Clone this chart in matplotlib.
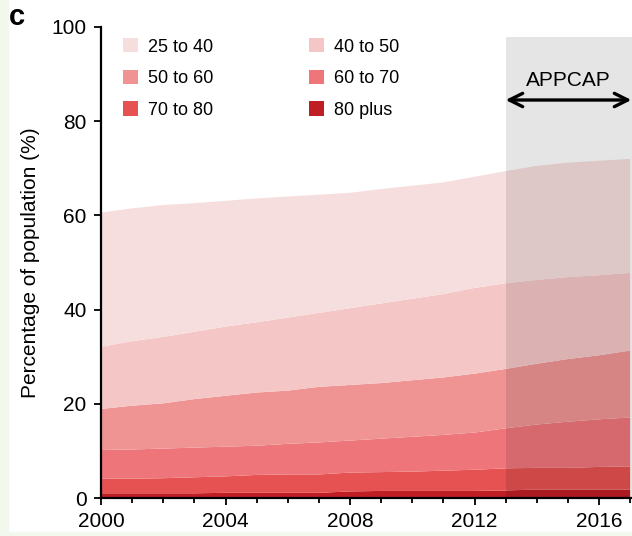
import matplotlib
matplotlib.use("Agg")
import matplotlib.pyplot as plt
from matplotlib.patches import Rectangle
from matplotlib.ticker import MultipleLocator

plt.rcParams['font.family'] = ['Liberation Sans', 'DejaVu Sans']

# share of population in each age band, per year
years = list(range(2000, 2018))
age_25_40 = [28.5, 28.2, 28.0, 27.3, 26.7, 26.3, 25.7, 25.1, 24.5, 24.3, 24.0, 23.7, 23.6, 23.8, 24.2, 24.3, 24.3, 24.2]
age_40_50 = [13.2, 13.7, 14.1, 14.3, 14.7, 14.9, 15.5, 15.7, 16.3, 16.9, 17.3, 17.7, 18.2, 18.2, 17.8, 17.4, 17.0, 16.5]
age_50_60 = [8.7, 9.3, 9.6, 10.3, 10.8, 11.3, 11.3, 11.8, 11.8, 11.8, 12.0, 12.2, 12.5, 12.6, 12.9, 13.3, 13.6, 14.2]
age_60_70 = [6.1, 6.2, 6.3, 6.3, 6.3, 6.2, 6.5, 6.8, 6.8, 7.1, 7.4, 7.6, 7.9, 8.5, 9.2, 9.8, 10.1, 10.4]
age_70_80 = [3.1, 3.1, 3.2, 3.4, 3.5, 3.8, 3.9, 3.9, 4.0, 4.0, 4.1, 4.3, 4.5, 4.7, 4.6, 4.6, 4.8, 4.9]
age_80_plus = [1.0, 1.0, 1.0, 1.0, 1.1, 1.1, 1.1, 1.1, 1.4, 1.5, 1.5, 1.5, 1.5, 1.6, 1.8, 1.8, 1.8, 1.8]

labels = ['25 to 40', '40 to 50', '50 to 60', '60 to 70', '70 to 80', '80 plus']
colors = ['#f7dede', '#f4c6c6', '#ef9393', '#ee767a', '#e65151', '#bf1e24']

appcap_start = 2013

fig = plt.figure(figsize=(6.32, 5.36), dpi=100)
fig.patches.append(Rectangle((0, 0), 8 / 632, 1, transform=fig.transFigure,
                             color='#f3f8ee', zorder=-1))
fig.patches.append(Rectangle((0, 0), 1, 4 / 536, transform=fig.transFigure,
                             color='#f3f8ee', zorder=-1))

ax = fig.add_axes([101 / 632, 38 / 536, 531 / 632, 471 / 536])

# stack from the oldest band at the bottom up to 25 to 40 on top
series = [age_80_plus, age_70_80, age_60_70, age_50_60, age_40_50, age_25_40]
polys = ax.stackplot(years, series, colors=colors[::-1], linewidth=0)

ax.set_xlim(2000, 2000 + 531 / 31.125)
ax.set_ylim(0, 100)
x_end = ax.get_xlim()[1]

# grey band marking the APPCAP period
ax.axvspan(appcap_start, x_end, ymin=0, ymax=0.979,
           color='black', alpha=0.1, linewidth=0, zorder=3)
ax.annotate('', xy=(appcap_start, 84.5), xytext=(x_end - 0.02, 84.5),
            arrowprops=dict(arrowstyle='<->', lw=2.4, color='black',
                            mutation_scale=24, shrinkA=0, shrinkB=0),
            annotation_clip=False, zorder=4)
ax.text((appcap_start + x_end) / 2, 88.6, 'APPCAP',
        ha='center', va='center', fontsize=15, zorder=4)

for side in ['top', 'right']:
    ax.spines[side].set_visible(False)
ax.spines['left'].set_linewidth(1.6)
ax.spines['bottom'].set_linewidth(1.6)

ax.set_xticks([2000, 2004, 2008, 2012, 2016])
ax.xaxis.set_minor_locator(MultipleLocator(1))
ax.set_yticks([0, 20, 40, 60, 80, 100])
ax.tick_params(which='major', direction='out', length=5, width=1.3,
               labelsize=15)
ax.tick_params(axis='x', which='major', pad=5)
ax.tick_params(axis='y', which='major', pad=5.5)
ax.tick_params(which='minor', direction='out', length=3.5, width=1.3)
ax.set_ylabel('Percentage of population (%)', fontsize=15, labelpad=8)

# legend laid out row by row, two columns
handles = polys[::-1]
order = [0, 2, 4, 1, 3, 5]
ax.legend([handles[i] for i in order], [labels[i] for i in order],
          ncol=2, frameon=False, loc='upper left',
          bbox_to_anchor=(0.028, 0.9915), fontsize=13,
          handlelength=0.83, handleheight=0.83, handletextpad=0.55,
          labelspacing=0.79, columnspacing=5.3, borderaxespad=0)

fig.text(9 / 632, 1 - 25 / 536, 'c', fontsize=21, fontweight='bold',
         va='baseline', ha='left')

fig.savefig('out.png', dpi=100, facecolor='white')
